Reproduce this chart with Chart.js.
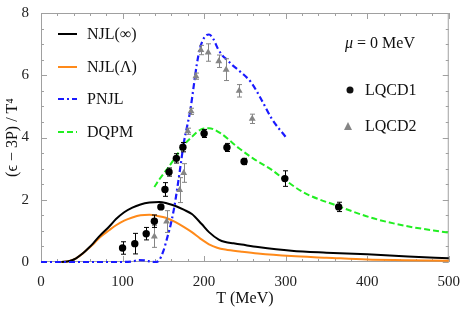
<!DOCTYPE html>
<html>
<head>
<meta charset="utf-8">
<script src="https://cdn.jsdelivr.net/npm/chart.js@4.4.1/dist/chart.umd.min.js"></script>
<style>
  html, body { margin: 0; padding: 0; background: #fff; }
  #wrap { width: 463px; height: 313px; }
</style>
</head>
<body>
<div id="wrap"><canvas id="myChart"></canvas></div>
<script>
// curvas de modelo (T en MeV, (e-3P)/T^4)
var njlInfT = [25, 35, 43, 51, 58, 64, 72, 84, 92, 102, 112, 122, 133, 145, 155, 165, 175, 185, 197, 206, 218, 226, 236, 246, 266, 307, 350, 400, 450, 500];
var njlInfY = [0, 0.03, 0.12, 0.27, 0.44, 0.6, 0.84, 1.15, 1.38, 1.6, 1.75, 1.85, 1.91, 1.93, 1.88, 1.8, 1.68, 1.54, 1.22, 0.96, 0.72, 0.64, 0.6, 0.56, 0.48, 0.36, 0.3, 0.25, 0.18, 0.12];

var njlLamT = [25, 35, 43, 51, 58, 64, 72, 84, 92, 102, 112, 122, 133, 143, 153, 165, 175, 185, 195, 206, 216, 226, 246, 266, 307, 350, 400, 450, 500];
var njlLamY = [0, 0.03, 0.12, 0.27, 0.43, 0.57, 0.79, 1.03, 1.18, 1.33, 1.43, 1.5, 1.52, 1.48, 1.42, 1.28, 1.13, 0.96, 0.76, 0.57, 0.46, 0.4, 0.33, 0.27, 0.19, 0.14, 0.08, 0.06, 0.04];

var pnjlT = [0, 100, 112, 120, 128, 135, 140, 145, 150, 155, 159, 163, 167, 171, 175, 179, 183, 187, 191, 195, 201, 206, 211, 217, 222, 228, 234, 246, 258, 270, 283, 300];
var pnjlY = [0, 0, 0.02, 0.06, 0.05, 0.01, 0, 0.06, 0.35, 0.8, 1.2, 1.7, 2.35, 3.07, 3.81, 4.34, 4.86, 5.6, 6.34, 6.87, 7.24, 7.31, 7.18, 6.85, 6.65, 6.5, 6.34, 6.08, 5.76, 5.23, 4.6, 4.02];

var dqpmT = [139, 145, 157, 167, 175, 185, 197, 206, 220, 242, 260, 283, 300, 323, 364, 404, 445, 500];
var dqpmY = [2.41, 2.65, 3.07, 3.45, 3.75, 4.02, 4.27, 4.3, 4.14, 3.67, 3.33, 2.96, 2.62, 2.22, 1.8, 1.43, 1.17, 0.94];

// datos de lattice QCD
var lqcd1T = [100, 115, 129, 139, 147, 152, 157, 166, 174, 200, 228, 249, 299, 365];
var lqcd1Y = [0.45, 0.59, 0.91, 1.31, 1.77, 2.33, 2.89, 3.33, 3.69, 4.13, 3.68, 3.23, 2.68, 1.77];
var lqcd1Err = [0.2, 0.33, 0.2, 0.2, 0.05, 0.22, 0.13, 0.15, 0.15, 0.13, 0.13, 0.1, 0.25, 0.15];

var lqcd2T = [139, 154, 170, 175, 180, 184, 190, 196, 205, 218, 227, 243, 259];
var lqcd2Y = [0.82, 1.3, 2.31, 2.86, 4.2, 4.84, 5.97, 6.81, 6.73, 6.45, 6.18, 5.5, 4.6];
var lqcd2Err = [0.35, 0.35, 0.4, 0.3, 0.1, 0.1, 0.1, 0.15, 0.28, 0.2, 0.35, 0.2, 0.15];

var xTicks = [0, 100, 200, 300, 400, 500];
var yTicks = [0, 2, 4, 6, 8];

function pts(xs, ys) {
  return xs.map(function (x, i) { return { x: x, y: ys[i] }; });
}

var SERIF = 'Liberation Serif';
var BLUE = '#1a1aff', GREEN = '#22ee22', ORANGE = '#ff8a1a', GRAY = '#858585';

// barras de error, marco, marcas de eje y leyenda
var extras = {
  id: 'extras',
  beforeDatasetsDraw: function (chart) {
    var ctx = chart.ctx, a = chart.chartArea, xs = chart.scales.x, ys = chart.scales.y;
    ctx.save();
    ctx.strokeStyle = '#a0a0a0';
    ctx.lineWidth = 1;
    ctx.strokeRect(a.left + 0.5, a.top + 0.5, a.right - a.left - 1, a.bottom - a.top - 1);
    ctx.beginPath();
    for (var t = 0; t <= 500; t += 20) {
      var px = Math.round(xs.getPixelForValue(t)) + 0.5;
      var len = t % 100 === 0 ? 6 : 3;
      ctx.moveTo(px, a.bottom); ctx.lineTo(px, a.bottom - len);
      ctx.moveTo(px, a.top); ctx.lineTo(px, a.top + len);
    }
    for (var v = 0; v <= 8; v += 0.5) {
      var py = Math.round(ys.getPixelForValue(v)) + 0.5;
      var l2 = v % 2 === 0 ? 6 : 3;
      ctx.moveTo(a.left, py); ctx.lineTo(a.left + l2, py);
      ctx.moveTo(a.right, py); ctx.lineTo(a.right - l2, py);
    }
    ctx.stroke();
    ctx.restore();
  },
  beforeDatasetDraw: function (chart, args) {
    var ds = chart.data.datasets[args.index];
    if (!ds.errors) return;
    var ctx = chart.ctx, xs = chart.scales.x, ys = chart.scales.y;
    ctx.save();
    ctx.strokeStyle = ds.borderColor;
    ctx.lineWidth = 1;
    ds.data.forEach(function (p, i) {
      var px = Math.round(xs.getPixelForValue(p.x)) + 0.5;
      var y1 = ys.getPixelForValue(p.y - ds.errors[i]);
      var y2 = ys.getPixelForValue(p.y + ds.errors[i]);
      ctx.beginPath();
      ctx.moveTo(px, y1); ctx.lineTo(px, y2);
      ctx.moveTo(px - 2.5, y1); ctx.lineTo(px + 2.5, y1);
      ctx.moveTo(px - 2.5, y2); ctx.lineTo(px + 2.5, y2);
      ctx.stroke();
    });
    ctx.restore();
  },
  afterDraw: function (chart) {
    var ctx = chart.ctx;
    ctx.save();
    // leyenda de curvas
    var items = [
      ['NJL(\u221e)', '#000', []],
      ['NJL(\u039b)', ORANGE, []],
      ['PNJL', BLUE, [6, 3, 2, 3]],
      ['DQPM', GREEN, [6, 3]]
    ];
    var ly = [34, 67, 99, 132];
    ctx.font = '16px ' + SERIF;
    ctx.textBaseline = 'middle';
    items.forEach(function (it, i) {
      ctx.beginPath();
      ctx.setLineDash(it[2]);
      ctx.strokeStyle = it[1];
      ctx.lineWidth = 2;
      ctx.moveTo(58, ly[i]); ctx.lineTo(77, ly[i]);
      ctx.stroke();
      ctx.setLineDash([]);
      ctx.fillStyle = '#111';
      ctx.fillText(it[0], 87, ly[i] + 1);
    });

    // leyenda de datos
    ctx.fillStyle = '#111';
    ctx.font = 'italic 16px ' + SERIF;
    ctx.fillText('\u03bc', 345, 44);
    var mw = ctx.measureText('\u03bc').width;
    ctx.font = '16px ' + SERIF;
    ctx.fillText(' = 0 MeV', 345 + mw, 44);
    ctx.fillText('LQCD1', 365, 91);
    ctx.fillText('LQCD2', 365, 127);
    ctx.beginPath();
    ctx.arc(350, 90, 3.5, 0, Math.PI * 2);
    ctx.fill();
    ctx.fillStyle = GRAY;
    ctx.beginPath();
    ctx.moveTo(348, 122); ctx.lineTo(352, 130); ctx.lineTo(344, 130);
    ctx.closePath();
    ctx.fill();
    ctx.restore();
  }
};

var chartData = {
  datasets: [
    {
      label: 'LQCD1', type: 'scatter', data: pts(lqcd1T, lqcd1Y), errors: lqcd1Err,
      borderColor: '#000', backgroundColor: '#000', pointRadius: 3.7, pointStyle: 'circle'
    },
    {
      label: 'LQCD2', type: 'scatter', data: pts(lqcd2T, lqcd2Y), errors: lqcd2Err,
      borderColor: GRAY, backgroundColor: GRAY, pointRadius: 4, pointStyle: 'triangle'
    },
    {
      label: 'PNJL', data: pts(pnjlT, pnjlY), clip: 4,
      borderColor: BLUE, borderWidth: 2.2, borderDash: [6, 3, 2, 3]
    },
    {
      label: 'NJL(\u221e)', data: pts(njlInfT, njlInfY), clip: 4,
      borderColor: '#000', borderWidth: 2
    },
    {
      label: 'NJL(\u039b)', data: pts(njlLamT, njlLamY), clip: 4,
      borderColor: ORANGE, borderWidth: 2
    },
    {
      label: 'DQPM', data: pts(dqpmT, dqpmY), clip: 4,
      borderColor: GREEN, borderWidth: 2, borderDash: [6, 3]
    }
  ]
};

var chartOptions = {
  responsive: true,
  maintainAspectRatio: false,
  animation: false,
  layout: { padding: { top: 9, right: 12, left: 0, bottom: 0 } },
  elements: {
    line: { fill: false, cubicInterpolationMode: 'monotone' },
    point: { radius: 0, borderWidth: 0 }
  },
  plugins: { legend: { display: false }, tooltip: { enabled: false } },
  scales: {
    x: {
      type: 'linear', min: 0, max: 500,
      afterBuildTicks: function (s) { s.ticks = xTicks.map(function (v) { return { value: v }; }); },
      afterFit: function (s) { s.height = 51; },
      grid: { display: false }, border: { display: false },
      ticks: { font: { family: SERIF, size: 15 }, color: '#222', padding: 3, maxRotation: 0 },
      title: { display: true, text: 'T (MeV)', font: { family: SERIF, size: 16 }, color: '#111', padding: { top: 0, bottom: 5 } }
    },
    y: {
      type: 'linear', min: 0, max: 8,
      afterBuildTicks: function (s) { s.ticks = yTicks.map(function (v) { return { value: v }; }); },
      afterFit: function (s) { s.width = 41; },
      grid: { display: false }, border: { display: false },
      ticks: { font: { family: SERIF, size: 15 }, color: '#222', padding: 4 },
      title: { display: true, text: '(\u03f5 \u2212 3P) / T\u2074', font: { family: SERIF, size: 16 }, color: '#111', padding: { top: 3, bottom: 0 } }
    }
  }
};

var ctx = document.getElementById('myChart').getContext('2d');
var myChart = new Chart(ctx, {
  type: 'line',
  data: chartData,
  options: chartOptions,
  plugins: [extras]
});
</script>
</body>
</html>
